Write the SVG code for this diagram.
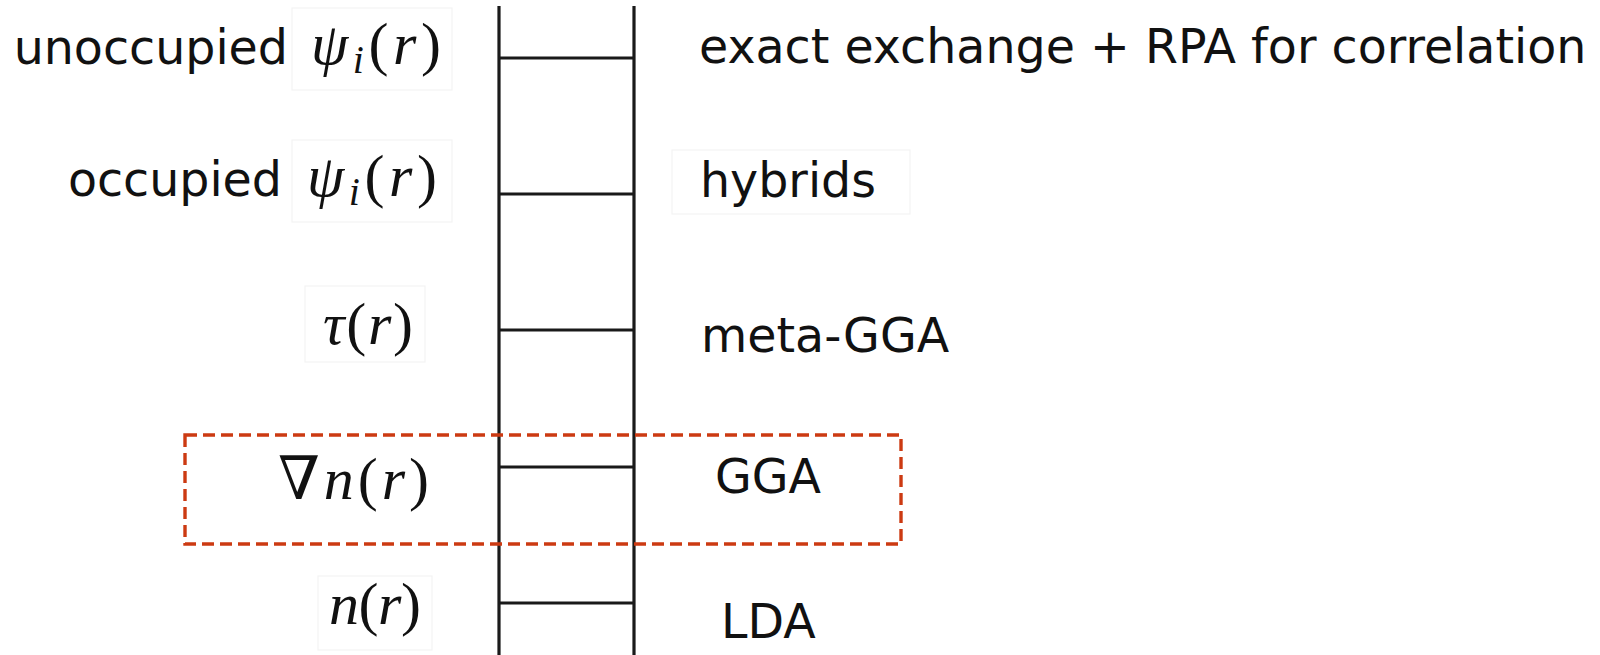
<svg xmlns="http://www.w3.org/2000/svg" width="1600" height="655" viewBox="0 0 1600 655">
  <style>
    .lbl { font-family: "DejaVu Sans", "Liberation Sans", sans-serif; font-size: 47.5px; fill: #111; }
    .math { font-family: "Liberation Serif", "DejaVu Serif", serif; font-size: 60px; fill: #111; }
    .it { font-style: italic; }
    .rail { stroke: #1a1a1a; stroke-width: 3.2; fill: none; }
    .rung { stroke: #1a1a1a; stroke-width: 3.2; fill: none; }
    .frame { fill: none; stroke: #f4f4f4; stroke-width: 1.2; }
    .highlight { fill: none; stroke: #cc3a12; stroke-width: 3.4; stroke-dasharray: 12 6; }
  </style>

  <rect width="1600" height="655" fill="#ffffff"/>

  <!-- ladder: rails and rungs -->
  <g id="connectors">
    <line class="rail" x1="499" y1="6" x2="499" y2="655"/>
    <line class="rail" x1="634" y1="6" x2="634" y2="655"/>
    <line class="rung" x1="499" y1="58" x2="634" y2="58"/>
    <line class="rung" x1="499" y1="194" x2="634" y2="194"/>
    <line class="rung" x1="499" y1="330" x2="634" y2="330"/>
    <line class="rung" x1="499" y1="467" x2="634" y2="467"/>
    <line class="rung" x1="499" y1="603" x2="634" y2="603"/>
  </g>

  <!-- rung 5: unoccupied orbitals -->
  <g id="rung-unoccupied">
    <rect class="frame" x="292" y="8" width="160" height="82"/>
    <text class="lbl" x="288" y="64" text-anchor="end">unoccupied</text>
    <text class="math" x="311" y="64" textLength="130" lengthAdjust="spacing"><tspan class="it">ψ</tspan><tspan class="it" font-size="40" dy="9">i</tspan><tspan dy="-9">(</tspan><tspan class="it">r</tspan>)</text>
    <text class="lbl" x="699" y="63">exact exchange + RPA for correlation</text>
  </g>

  <!-- rung 4: occupied orbitals -->
  <g id="rung-occupied">
    <rect class="frame" x="292" y="140" width="160" height="82"/>
    <text class="lbl" x="282" y="196" text-anchor="end">occupied</text>
    <text class="math" x="307" y="196" textLength="130" lengthAdjust="spacing"><tspan class="it">ψ</tspan><tspan class="it" font-size="40" dy="9">i</tspan><tspan dy="-9">(</tspan><tspan class="it">r</tspan>)</text>
    <rect class="frame" x="672" y="150" width="238" height="64"/>
    <text class="lbl" x="700" y="197">hybrids</text>
  </g>

  <!-- rung 3: kinetic energy density -->
  <g id="rung-tau">
    <rect class="frame" x="305" y="286" width="120" height="76"/>
    <text class="math" x="323" y="344" textLength="90" lengthAdjust="spacing"><tspan class="it">τ</tspan>(<tspan class="it">r</tspan>)</text>
    <text class="lbl" x="701" y="352">meta-GGA</text>
  </g>

  <!-- rung 2: density gradient, highlighted -->
  <g id="rung-gradient">
    <rect class="highlight" x="185" y="435" width="716" height="109"/>
    <text class="math" x="278" y="499" textLength="151" lengthAdjust="spacing">∇<tspan class="it">n</tspan>(<tspan class="it">r</tspan>)</text>
    <text class="lbl" x="715" y="493">GGA</text>
  </g>

  <!-- rung 1: local density -->
  <g id="rung-density">
    <rect class="frame" x="318" y="576" width="114" height="74"/>
    <text class="math" x="329" y="624" textLength="92" lengthAdjust="spacing"><tspan class="it">n</tspan>(<tspan class="it">r</tspan>)</text>
    <text class="lbl" x="721" y="638">LDA</text>
  </g>
</svg>
